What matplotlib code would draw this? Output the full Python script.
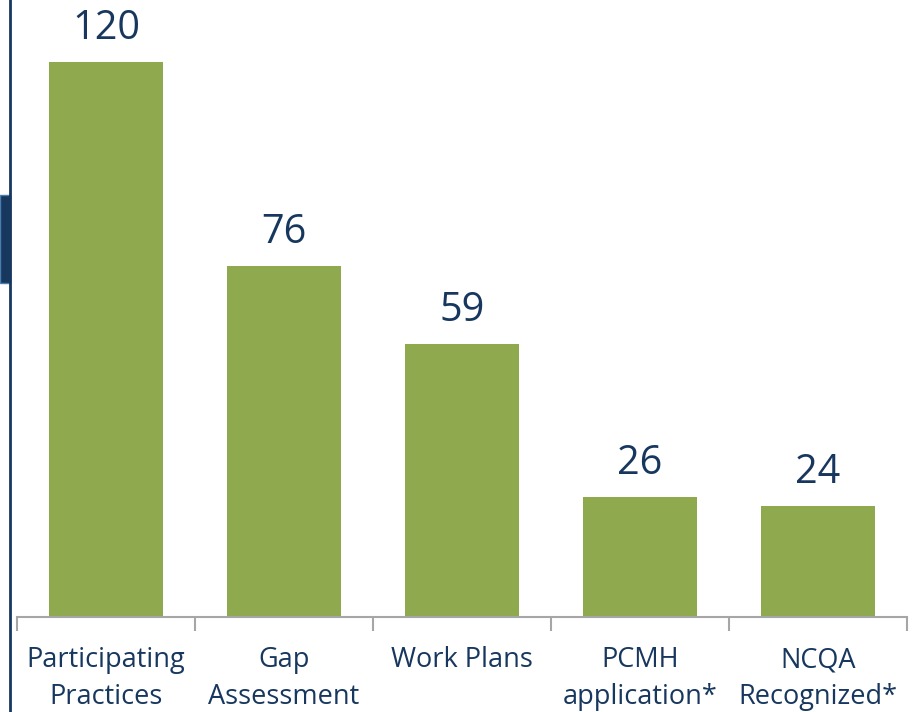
import matplotlib.pyplot as plt
from matplotlib.patches import Rectangle
from matplotlib.lines import Line2D

categories = ['Participating\nPractices', 'Gap\nAssessment', 'Work Plans',
              'PCMH\napplication*', 'NCQA\nRecognized*']
values = [120, 76, 59, 26, 24]

navy = '#17375E'
green = '#8FA94F'

plt.rcParams['font.family'] = ['Open Sans', 'DejaVu Sans']

fig = plt.figure(figsize=(9.13, 7.12), dpi=100)
ax = fig.add_axes([17/913, (712-617)/712, (907-17)/913, 617/712])

x = range(len(values))
bars = ax.bar(x, values, width=0.635, color=green)
for i, v in enumerate(values):
    ax.text(i, v + 2.8, str(v), ha='center', va='bottom', fontsize=28.5, color=navy)

ax.set_xlim(-0.5, len(values) - 0.5)
ax.set_ylim(0, 120 * 617 / 555)
ax.set_yticks([])
ax.set_xticks([i - 0.5 for i in range(len(values) + 1)], minor=False)
ax.set_xticklabels([])
ax.tick_params(axis='x', length=10, color='#A6A6A6', width=1.5)
for i, c in enumerate(categories):
    ax.text(i, -6.3, c, ha='center', va='top', fontsize=19.5, color=navy,
            linespacing=1.4)
for s in ['top', 'right', 'left']:
    ax.spines[s].set_visible(False)
ax.spines['bottom'].set_color('#A6A6A6')
ax.spines['bottom'].set_linewidth(1.5)

# left frame line and tab
fig.add_artist(Line2D([9.5/913, 9.5/913], [0, 1], color=navy, lw=2))
fig.add_artist(Rectangle((0, (712-283)/712), 10/913, 88/712, facecolor=navy,
                         edgecolor='#4A7DAF', lw=1))

fig.savefig('out.png', dpi=100)
